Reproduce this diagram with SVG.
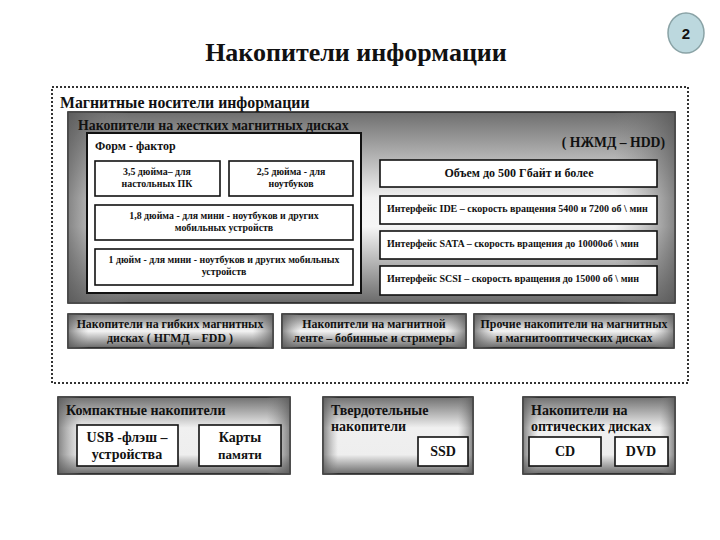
<svg xmlns="http://www.w3.org/2000/svg" width="720" height="540" viewBox="0 0 720 540">
<defs>
<linearGradient id="gv" x1="0" y1="0" x2="0" y2="1">
<stop offset="0" stop-color="#6e6e6e"/>
<stop offset="0.45" stop-color="#f2f2f2"/>
<stop offset="0.6" stop-color="#f6f6f6"/>
<stop offset="1" stop-color="#6a6a6a"/>
</linearGradient>
<linearGradient id="gh" x1="0" y1="0" x2="1" y2="0">
<stop offset="0" stop-color="#555" stop-opacity="0.7"/>
<stop offset="0.1" stop-color="#888" stop-opacity="0"/>
<stop offset="0.9" stop-color="#888" stop-opacity="0"/>
<stop offset="1" stop-color="#555" stop-opacity="0.7"/>
</linearGradient>
<linearGradient id="gb" x1="0" y1="0" x2="0" y2="1">
<stop offset="0" stop-color="#777"/>
<stop offset="0.5" stop-color="#f4f4f4"/>
<stop offset="1" stop-color="#666"/>
</linearGradient>
<linearGradient id="gl" x1="0" y1="0" x2="0" y2="1">
<stop offset="0" stop-color="#707070"/>
<stop offset="0.4" stop-color="#f0f0f0"/>
<stop offset="0.75" stop-color="#eeeeee"/>
<stop offset="1" stop-color="#6a6a6a"/>
</linearGradient>
</defs>
<style>
text{font-family:"Liberation Serif","Times New Roman",serif;font-weight:bold;fill:#111}
.box{fill:#fff;stroke:#111;stroke-width:1.6}
.gbox{stroke:#222;stroke-width:1.6}
.ov{fill:url(#gh);stroke:none}
.s9{font-size:9.9px}
.s10{font-size:10px}
.s11{font-size:11.9px}
.s12{font-size:14px}
.c{text-anchor:middle}
</style>
<rect width="720" height="540" fill="#fff"/>
<g id="badge">
<ellipse cx="686" cy="33" rx="18" ry="20" fill="#bcd8de" stroke="#8aa3a6" stroke-width="1.5"/>
<text x="686" y="39" class="c" style="font-family:'Liberation Sans',Arial,sans-serif;font-size:15px">2</text>
</g>
<g id="title">
<text x="356" y="61" class="c" style="font-size:26px">Накопители информации</text>
</g>
<g id="magnetic">
<rect x="52" y="87" width="636" height="296" fill="none" stroke="#333" stroke-width="2" stroke-dasharray="2 2"/>
<text x="60" y="108" style="font-size:15.8px">Магнитные носители информации</text>
</g>
<g id="hdd">
<rect class="gbox" x="68" y="112" width="607" height="191" fill="url(#gv)"/>
<rect class="ov" x="68" y="112" width="607" height="191"/>
<text x="78" y="130" style="font-size:13.8px">Накопители на жестких магнитных дисках</text>
<text x="665" y="147" style="font-size:13.7px" text-anchor="end">( НЖМД – HDD)</text>
</g>
<g id="formfactor">
<rect x="87" y="133" width="274" height="160" fill="#fff" stroke="#111" stroke-width="2"/>
<text x="95" y="150" style="font-size:12px">Форм - фактор</text>
</g>
<g id="ff35">
<rect class="box" x="95" y="161" width="125" height="35"/>
<text x="157" y="175" class="s9 c">3,5 дюйма– для</text>
<text x="157" y="187" class="s9 c">настольных ПК</text>
</g>
<g id="ff25">
<rect class="box" x="229" y="161" width="124" height="35"/>
<text x="291" y="175" class="s9 c">2,5 дюйма -  для</text>
<text x="291" y="187" class="s9 c">ноутбуков</text>
</g>
<g id="ff18">
<rect class="box" x="95" y="205" width="258" height="35"/>
<text x="224" y="219" class="s9 c">1,8 дюйма - для мини - ноутбуков и других</text>
<text x="224" y="231" class="s9 c">мобильных устройств</text>
</g>
<g id="ff1">
<rect class="box" x="95" y="249" width="258" height="36"/>
<text x="224" y="263" class="s9 c">1 дюйм - для мини - ноутбуков и других мобильных</text>
<text x="224" y="275" class="s9 c">устройств</text>
</g>
<g id="volume">
<rect class="box" x="380" y="160" width="277" height="27"/>
<text x="519" y="177" class="c" style="font-size:12px">Объем до 500 Гбайт  и более</text>
</g>
<g id="ide">
<rect class="box" x="380" y="196" width="277" height="28"/>
<text x="387" y="212" class="s10">Интерфейс IDE – скорость вращения 5400 и 7200 об \ мин</text>
</g>
<g id="sata">
<rect class="box" x="380" y="231" width="277" height="28"/>
<text x="387" y="247" class="s10">Интерфейс SATA – скорость вращения до 10000об \ мин</text>
</g>
<g id="scsi">
<rect class="box" x="380" y="266" width="277" height="29"/>
<text x="387" y="282" class="s10">Интерфейс SCSI – скорость вращения до 15000 об \ мин</text>
</g>
<g id="fdd">
<rect class="gbox" x="68" y="314" width="205" height="34" fill="url(#gb)"/>
<rect class="ov" x="68" y="314" width="205" height="34"/>
<text x="170" y="328" class="s11 c">Накопители на гибких магнитных</text>
<text x="170" y="342" class="s11 c">дисках ( НГМД – FDD )</text>
</g>
<g id="tape">
<rect class="gbox" x="282" y="314" width="184" height="34" fill="url(#gb)"/>
<rect class="ov" x="282" y="314" width="184" height="34"/>
<text x="374" y="328" class="s11 c">Накопители на магнитной</text>
<text x="374" y="342" class="s11 c">ленте – бобинные и стримеры</text>
</g>
<g id="other">
<rect class="gbox" x="474" y="314" width="200" height="34" fill="url(#gb)"/>
<rect class="ov" x="474" y="314" width="200" height="34"/>
<text x="574" y="328" class="s11 c">Прочие накопители на магнитных</text>
<text x="574" y="342" class="s11 c">и магнитооптических дисках</text>
</g>
<g id="compact">
<rect class="gbox" x="58" y="397" width="232" height="77" fill="url(#gl)"/>
<rect class="ov" x="58" y="397" width="232" height="77"/>
<text x="66" y="415" class="s12">Компактные накопители</text>
</g>
<g id="usb">
<rect class="box" x="77" y="425" width="101" height="41"/>
<text x="127" y="442" class="c" style="font-size:14px">USB -флэш –</text>
<text x="127" y="459" class="c" style="font-size:14px">устройства</text>
</g>
<g id="cards">
<rect class="box" x="199" y="425" width="82" height="41"/>
<text x="240" y="442" class="c" style="font-size:14px">Карты</text>
<text x="240" y="459" class="c" style="font-size:13px">памяти</text>
</g>
<g id="solid">
<rect class="gbox" x="323" y="397" width="150" height="77" fill="url(#gl)"/>
<rect class="ov" x="323" y="397" width="150" height="77"/>
<text x="331" y="415" class="s12">Твердотельные</text>
<text x="331" y="431" class="s12">накопители</text>
</g>
<g id="ssd">
<rect class="box" x="418" y="437" width="50" height="29"/>
<text x="443" y="456" class="c" style="font-size:14px">SSD</text>
</g>
<g id="optical">
<rect class="gbox" x="523" y="397" width="152" height="77" fill="url(#gl)"/>
<rect class="ov" x="523" y="397" width="152" height="77"/>
<text x="531" y="415" class="s12">Накопители на</text>
<text x="531" y="431" class="s12">оптических дисках</text>
</g>
<g id="cd">
<rect class="box" x="529" y="437" width="72" height="29"/>
<text x="565" y="456" class="c" style="font-size:14px">CD</text>
</g>
<g id="dvd">
<rect class="box" x="615" y="437" width="53" height="29"/>
<text x="641" y="456" class="c" style="font-size:14px">DVD</text>
</g>
<g id="connectors"></g>
</svg>
